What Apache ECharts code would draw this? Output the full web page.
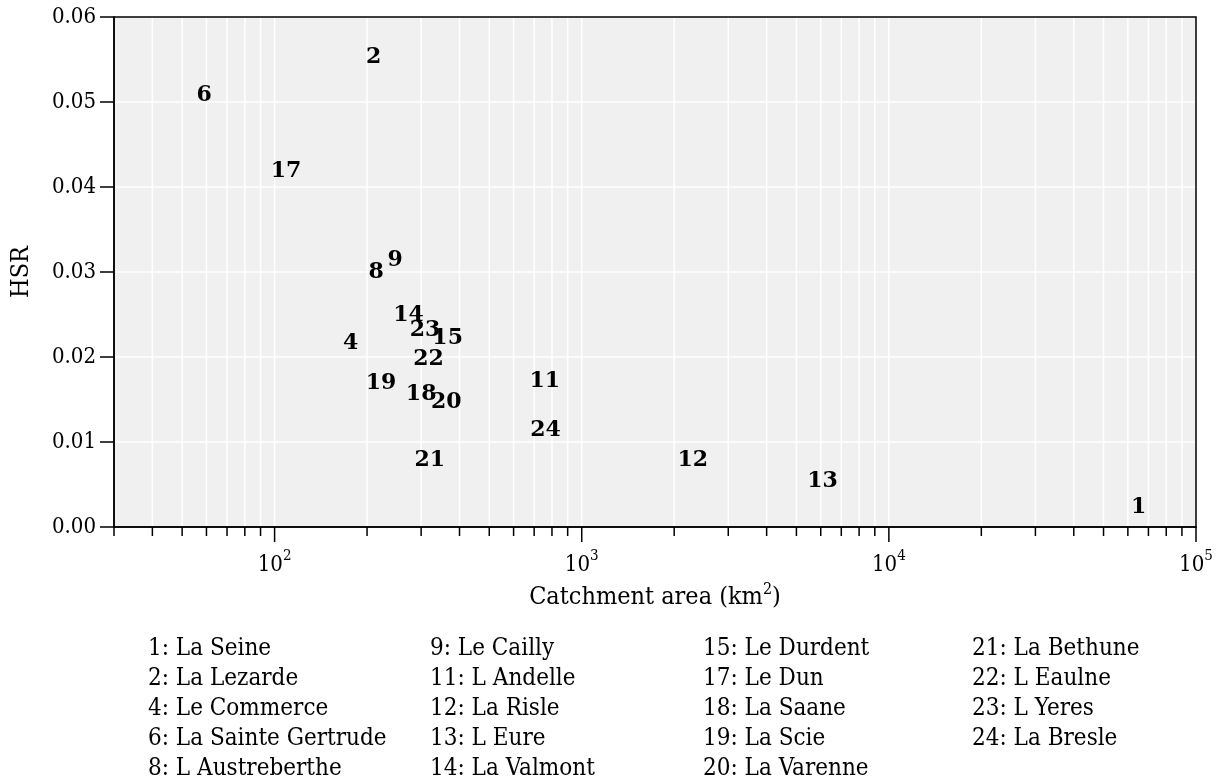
<!DOCTYPE html>
<html>
<head>
<meta charset="utf-8">
<script src="https://cdn.jsdelivr.net/npm/echarts@6/dist/echarts.min.js"></script>
<style>
html,body{margin:0;padding:0;background:#fff;}
#chart{width:1222px;height:782px;}
</style>
</head>
<body>
<div id="chart"></div>
<script>
// ---- data ----
const riverIds = [1, 2, 4, 6, 8, 9, 11, 12, 13, 14, 15, 17, 18, 19, 20, 21, 22, 23, 24];
const riverNames = ['La Seine', 'La Lezarde', 'Le Commerce', 'La Sainte Gertrude', 'L Austreberthe',
  'Le Cailly', 'L Andelle', 'La Risle', 'L Eure', 'La Valmont',
  'Le Durdent', 'Le Dun', 'La Saane', 'La Scie', 'La Varenne',
  'La Bethune', 'L Eaulne', 'L Yeres', 'La Bresle'];
const catchmentArea = [65000, 210, 177, 59, 214, 247, 758, 2300, 6080, 273, 366, 109, 300, 222, 362, 320, 317, 309, 762];
const hsr = [0.0023, 0.0553, 0.0216, 0.0508, 0.0300, 0.0314, 0.0172, 0.0079, 0.0054, 0.0249, 0.0222, 0.0418, 0.0156, 0.0169, 0.0147, 0.0079, 0.0197, 0.0232, 0.0114];

const xMin = 30, xMax = 100000;
const yTicks = [0, 0.01, 0.02, 0.03, 0.04, 0.05, 0.06];
const majorTicks = [100, 1000, 10000, 100000];
const minorMultipliers = [2, 3, 4, 5, 6, 7, 8, 9];
const decades = [10, 100, 1000, 10000];

const FONT = '"DejaVu Serif Condensed", "DejaVu Serif", serif';
const BOLDFONT = '"DejaVu Serif", serif';

const xTickItems = [];
decades.forEach(d => minorMultipliers.forEach(m => {
  const v = m * d;
  if (v >= xMin && v < xMax) xTickItems.push([v, 0, 0]);
}));
majorTicks.forEach(v => xTickItems.push([v, 0, 1]));

const chart = echarts.init(document.getElementById('chart'), null, {renderer: 'canvas'});

// legend text blocks (column-major, 5 per column)
const legendCols = [148, 430, 703, 972];
const legendTop = 648, legendStep = 30;
const graphics = riverIds.map((id, i) => ({
  type: 'text',
  left: legendCols[Math.floor(i / 5)],
  top: legendTop + (i % 5) * legendStep - 11,
  style: {text: id + ': ' + riverNames[i], fill: '#000', font: '24px ' + FONT}
}));

const option = {
  animation: false,
  backgroundColor: '#fff',
  grid: {left: 114, right: 26, top: 17, bottom: 255, containLabel: false, outerBoundsMode: 'none',
    show: true, backgroundColor: '#f0f0f0', borderColor: '#000', borderWidth: 1.5},
  xAxis: {
    type: 'log', logBase: 10, min: xMin, max: xMax,
    name: 'Catchment area (km{s|2})', nameLocation: 'middle', nameGap: 53,
    nameTextStyle: {fontFamily: FONT, fontSize: 25, color: '#000',
      rich: {s: {fontFamily: FONT, fontSize: 16, color: '#000', padding: [0, 0, 16, 0]}}},
    axisLine: {show: true, lineStyle: {color: '#000', width: 1.5}},
    axisTick: {show: false},
    splitLine: {show: false},
    minorTick: {show: false},
    axisLabel: {
      margin: 22, showMinLabel: false,
      formatter: function (v) {
        const e = Math.round(Math.log10(v));
        if (Math.abs(Math.log10(v) - e) > 1e-6 || v < 99) return '';
        return '{b|10}{s|' + e + '}';
      },
      rich: {
        b: {fontFamily: FONT, fontSize: 22, color: '#000'},
        s: {fontFamily: FONT, fontSize: 15, color: '#000', padding: [0, 0, 18, 0]}
      }
    }
  },
  yAxis: {
    type: 'value', min: 0, max: 0.06, interval: 0.01,
    name: 'HSR', nameLocation: 'middle', nameGap: 80,
    nameTextStyle: {fontFamily: FONT, fontSize: 25, color: '#000'},
    axisLine: {show: true, lineStyle: {color: '#000', width: 1.5}},
    axisTick: {show: true, length: 14, lineStyle: {color: '#000', width: 1.5}},
    splitLine: {show: false},
    axisLabel: {margin: 18, fontFamily: FONT, fontSize: 22, color: '#000', formatter: v => v.toFixed(2)}
  },
  graphic: graphics,
  series: [
    {
      type: 'custom', z: 1, silent: true, clip: false,
      data: xTickItems,
      renderItem: function (params, api) {
        const v = api.value(0), major = api.value(2);
        const x = api.coord([v, 0])[0];
        const yb = api.coord([v, 0])[1];
        const yt = api.coord([v, 0.06])[1];
        const children = [];
        if (v > xMin && v < xMax) {
          children.push({type: 'line', shape: {x1: x, y1: yt + 1, x2: x, y2: yb - 1}, style: {stroke: '#fff', lineWidth: 1.5}});
        }
        children.push({type: 'line', shape: {x1: x, y1: yb, x2: x, y2: yb + (major ? 15 : 9)}, style: {stroke: '#000', lineWidth: 1.5}});
        return {type: 'group', children: children};
      }
    },
    {
      type: 'custom', z: 1, silent: true, clip: false,
      data: yTicks.filter(t => t > 0 && t < 0.06).map(t => [xMin, t]),
      renderItem: function (params, api) {
        const t = api.value(1);
        const p1 = api.coord([xMin, t]);
        const p2 = api.coord([xMax, t]);
        return {type: 'line', shape: {x1: p1[0] + 1, y1: p1[1], x2: p2[0] - 1, y2: p2[1]}, style: {stroke: '#fff', lineWidth: 1.5}};
      }
    },
    {
      type: 'scatter', z: 5,
      symbolSize: 0,
      itemStyle: {color: 'transparent'},
      data: riverIds.map((id, i) => ({value: [catchmentArea[i], hsr[i]], name: String(id)})),
      label: {
        show: true, position: 'inside', formatter: '{b}',
        fontFamily: BOLDFONT, fontWeight: 'bold', fontSize: 22, color: '#000',
        textBorderWidth: 0, opacity: 1
      }
    }
  ]
};
chart.setOption(option);
</script>
</body>
</html>
